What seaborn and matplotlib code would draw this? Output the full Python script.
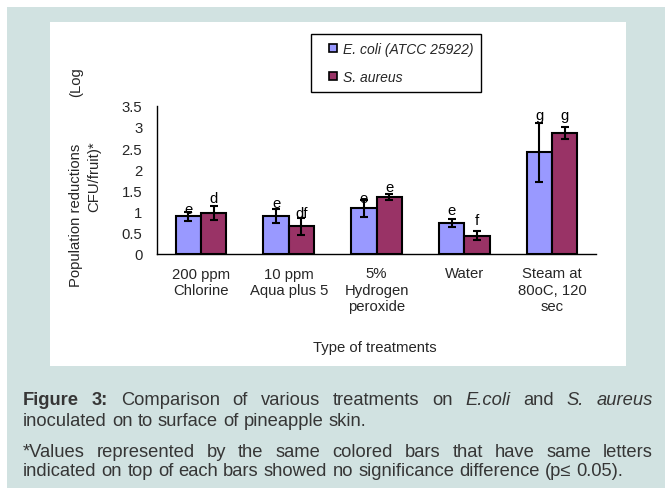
import numpy as np
import pandas as pd
import matplotlib
matplotlib.use("Agg")
import matplotlib.pyplot as plt
from matplotlib.patches import Rectangle
from matplotlib.lines import Line2D
from matplotlib.container import BarContainer
import seaborn as sns

# ---------------- data ----------------
categories = ["200 ppm\nChlorine", "10 ppm\nAqua plus 5", "5%\nHydrogen\nperoxide",
              "Water", "Steam at\n80oC, 120\nsec"]
series_names = ["E. coli (ATCC 25922)", "S. aureus"]
ecoli = [0.89, 0.89, 1.08, 0.73, 2.40]
ecoli_err = [0.11, 0.17, 0.20, 0.09, 0.69]
saureus = [0.97, 0.65, 1.35, 0.43, 2.85]
saureus_err = [0.16, 0.19, 0.07, 0.11, 0.145]
ecoli_letters = ["e", "e", "e", "e", "g"]
saureus_letters = ["d", "df", "e", "f", "g"]
ecoli_letter_y = [0.96, 1.10, 1.22, 0.94, 3.18]
saureus_letter_y = [1.23, 0.87, 1.49, 0.71, 3.18]
yticks = [0, 0.5, 1, 1.5, 2, 2.5, 3, 3.5]

colors = ["#9999ff", "#993366"]

sns.set_style("white")
plt.rcParams["font.family"] = ["Liberation Sans", "DejaVu Sans"]

W, H = 665, 489
fig = plt.figure(figsize=(W / 100, H / 100), dpi=100)
fig.patch.set_facecolor("white")

def fx(px):
    return px / W

def fy(py):
    return 1 - py / H

# background boxes
fig.patches.append(Rectangle((fx(7), 0), 1, fy(8), transform=fig.transFigure,
                             facecolor="#d1e2e1", edgecolor="none", zorder=-10))
fig.patches.append(Rectangle((fx(50), fy(367)), fx(626) - fx(50), fy(23) - fy(367),
                             transform=fig.transFigure, facecolor="white",
                             edgecolor="none", zorder=-9))

ax = fig.add_axes([fx(157), fy(255), fx(596) - fx(157), fy(106.7) - fy(255)])
ax.patch.set_alpha(0)

df = pd.DataFrame({
    "treatment": categories * 2,
    "organism": [series_names[0]] * 5 + [series_names[1]] * 5,
    "value": ecoli + saureus,
})
sns.barplot(data=df, x="treatment", y="value", hue="organism", order=categories,
            hue_order=series_names, palette=colors, width=0.576, gap=0,
            edgecolor="black", linewidth=1.5, errorbar=None, ax=ax, legend=False,
            saturation=1)

bar_containers = [c for c in ax.containers if isinstance(c, BarContainer)]
errs = [ecoli_err, saureus_err]
vals = [ecoli, saureus]
letters = [ecoli_letters, saureus_letters]
letter_y = [ecoli_letter_y, saureus_letter_y]
for k, cont in enumerate(bar_containers):
    xs = [p.get_x() + p.get_width() / 2 for p in cont.patches]
    ax.errorbar(xs, vals[k], yerr=errs[k], fmt="none", ecolor="black",
                elinewidth=1.5, capsize=3, capthick=1.5, zorder=5)
    for x, lab, ly in zip(xs, letters[k], letter_y[k]):
        ax.text(x, ly, lab, ha="center", va="baseline", fontsize=10.7, color="black",
                zorder=6)

ax.set_ylim(0, 3.5)
ax.set_xlim(-0.5, 4.5)
ax.set_yticks(yticks)
ax.set_yticklabels([("%g" % t) for t in yticks], fontsize=10.7)
ax.set_xticks(np.arange(-0.5, 5, 1))
ax.set_xticklabels([])
ax.set_xticks(range(5), minor=True)
ax.set_xticklabels(categories, minor=True, fontsize=10.7, linespacing=1.2)
ax.tick_params(axis="x", which="major", direction="out", length=5, width=1, color="black")
ax.tick_params(axis="x", which="minor", length=0, pad=9)
ax.tick_params(axis="y", direction="out", length=4.3, width=1, color="black", pad=6.3)
ax.set_xlabel("")
ax.set_ylabel("")
for s in ["top", "right"]:
    ax.spines[s].set_visible(False)
for s in ["left", "bottom"]:
    ax.spines[s].set_color("black")
    ax.spines[s].set_linewidth(1)

# axis labels
fig.text(fx(375), fy(352), "Type of treatments", ha="center", va="baseline", fontsize=10.7)
fig.text(fx(76), fy(287), "Population reductions", rotation=90, ha="center", va="bottom",
         fontsize=10.7)
fig.text(fx(76), fy(67), "(Log", rotation=90, ha="center", va="top", fontsize=10.7)
fig.text(fx(94.5), fy(177), "CFU/fruit)*", rotation=90, ha="center", va="center",
         fontsize=10.7)

# legend
handles = [Line2D([], [], linestyle="none", marker="s", markersize=5.5,
                  markerfacecolor=c, markeredgecolor="black", markeredgewidth=1.2)
           for c in colors]
leg = fig.legend(handles, series_names, loc="upper left",
                 bbox_to_anchor=(fx(311), fy(35)), bbox_transform=fig.transFigure,
                 borderaxespad=0, fancybox=False, frameon=True, edgecolor="black",
                 framealpha=1, borderpad=0.6, handlelength=2.0, handletextpad=-0.33,
                 labelspacing=0.95, prop={"size": 10, "style": "italic"})
leg.get_frame().set_linewidth(1)

# caption with justification
renderer = fig.canvas.get_renderer()
cap_color = "#363636"
cap_size = 13.2

def measure(s, **kw):
    t = fig.text(0, 0, s, fontsize=cap_size, **kw)
    w = t.get_window_extent(renderer).width
    t.remove()
    return w

space_w = measure("a a") - measure("aa")

def draw_line(words, y_px, x0=23, x1=653, justify=True):
    widths = [measure(w, **kw) for w, kw in words]
    if justify and len(words) > 1:
        gap = (x1 - x0 - sum(widths)) / (len(words) - 1)
    else:
        gap = space_w
    x = x0
    for (w, kw), wd in zip(words, widths):
        fig.text(fx(x), fy(y_px), w, fontsize=cap_size, ha="left", va="baseline",
                 color=cap_color, **kw)
        x += wd + gap

B = {"fontweight": "bold"}
I = {"style": "italic"}
N = {}
line1 = [("Figure", B), ("3:", B)] + [(w, N) for w in "Comparison of various treatments on".split()] + \
        [("E.coli", I), ("and", N), ("S.", I), ("aureus", I)]
line2 = [(w, N) for w in "inoculated on to surface of pineapple skin.".split()]
line3 = [(w, N) for w in "*Values represented by the same colored bars that have same letters".split()]
line4 = [(w, N) for w in "indicated on top of each bars showed no significance difference (p\u2264 0.05).".split()]
draw_line(line1, 405)
draw_line(line2, 426.3, justify=False)
draw_line(line3, 456.7)
draw_line(line4, 476.5, justify=False)

fig.savefig("out.png", dpi=100)
